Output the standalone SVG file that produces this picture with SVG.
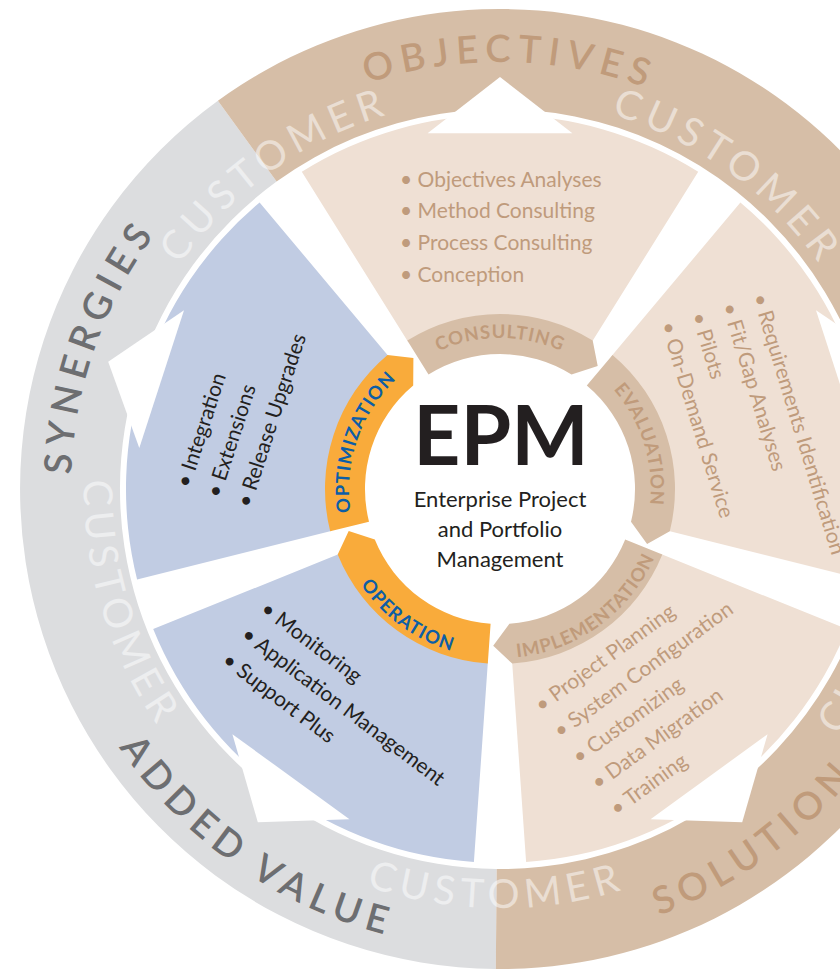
<svg xmlns="http://www.w3.org/2000/svg" width="840" height="971" viewBox="0 0 840 971">
<style>
text{font-family:Lato,"Open Sans","Liberation Sans",sans-serif}
.rl{font-size:38px;font-weight:600;letter-spacing:7px}
.tanT{fill:#c09b7b}
.grayT{fill:#6d6e71}
.cust{font-size:40px;font-weight:400;letter-spacing:6px;fill:#ffffff;fill-opacity:0.5}
.bl{font-size:18.5px;font-weight:700;letter-spacing:1px}
.blT{fill:#c09b7b}
.blB{fill:#0d5ea6}
.li{font-size:21px}
.liT{fill:#bf9b7c}
.liK{fill:#231f20}
.tanSec{fill:#efe0d4}
.blueSec{fill:#c1cce3}
.tanBand{fill:#d6bea7}
.orBand{fill:#f9ab3b}
.arrow{fill:#ffffff}
</style>
<defs>
<path id="pObj" d="M81.3,405.3 A427,427 0 0 1 922.1,424.4"/>
<path id="pSyn" d="M288.8,862.4 A429,429 0 0 1 570.8,65.9"/>
<path id="pAdd" d="M82.4,296 A460,460 0 0 0 826.4,813.1"/>
<path id="pSol" d="M183.9,816.3 A455,455 0 0 0 909,289.5"/>
<path id="pC1" d="M147.4,657.9 A391,391 0 0 1 773.6,209.6"/>
<path id="pC2" d="M228.4,207.8 A391,391 0 0 1 851.4,660.4"/>
<path id="pC3" d="M311.1,118.3 A416,416 0 0 0 550.7,901.9"/>
<path id="pC4" d="M86.7,558.1 A419,419 0 0 0 912,565.3"/>
<path id="pC5" d="M441.7,903.9 A419,419 0 0 0 696.7,119.1"/>
<path id="pCon" d="M351.3,462.8 A151,151 0 0 1 648.7,462.8"/>
<path id="pEva" d="M480.3,339.3 A151,151 0 0 1 569.7,622.9"/>
<path id="pImp" d="M382.6,610.6 A169,169 0 0 0 651.9,414.9"/>
<path id="pOpe" d="M348.1,414.9 A169,169 0 0 0 617.4,610.6"/>
<path id="pOpt" d="M426.8,621.1 A151,151 0 0 1 523.6,339.9"/>
</defs>
<rect width="840" height="971" fill="#ffffff"/>
<g id="outer-ring">
<path fill="#dcdddf" d="M495.8,969 A480,480 0 0 1 217.9,100.7 L276.6,181.6 A380,380 0 0 0 496.7,869 Z"/>
<path fill="#d6bea7" d="M217.9,100.7 A480,480 0 1 1 495.8,969 L496.7,869 A380,380 0 1 0 276.6,181.6 Z"/>
<text class="rl tanT"><textPath href="#pObj" startOffset="50%" text-anchor="middle">OBJECTIVES</textPath></text>
<text class="rl grayT"><textPath href="#pSyn" startOffset="50%" text-anchor="middle">SYNERGIES</textPath></text>
<text class="rl grayT"><textPath href="#pAdd" startOffset="50%" text-anchor="middle">ADDED VALUE</textPath></text>
<text class="rl tanT"><textPath href="#pSol" startOffset="50%" text-anchor="middle">SOLUTION</textPath></text>
<text class="cust"><textPath href="#pC1" startOffset="50%" text-anchor="middle">CUSTOMER</textPath></text>
<text class="cust"><textPath href="#pC2" startOffset="50%" text-anchor="middle">CUSTOMER</textPath></text>
<text class="cust"><textPath href="#pC3" startOffset="50%" text-anchor="middle">CUSTOMER</textPath></text>
<text class="cust"><textPath href="#pC4" startOffset="50%" text-anchor="middle">CUSTOMER</textPath></text>
<text class="cust"><textPath href="#pC5" startOffset="50%" text-anchor="middle">CUSTOMER</textPath></text>
</g>
<g id="consulting">
<path class="tanSec" d="M301.8,171.8 A374,374 0 0 1 698.2,171.8 L591.7,342.3 A173,173 0 0 0 408.3,342.3 Z"/>
<path class="tanBand" d="M407.3,340.6 A175,175 0 0 1 592.7,340.6 L597.7,366.1 L571.5,374.5 A135,135 0 0 0 428.5,374.5 Z"/>
<text class="bl blT"><textPath href="#pCon" startOffset="50%" text-anchor="middle">CONSULTING</textPath></text>
<g class="li liT">
<text x="400" y="187">• Objectives Analyses</text>
<text x="400" y="218">• Method Consulting</text>
<text x="400" y="250">• Process Consulting</text>
<text x="400" y="282">• Conception</text>
</g>
</g>
<g id="evaluation">
<path class="tanSec" d="M740.4,202.5 A374,374 0 0 1 862.9,579.5 L667.9,530.8 A173,173 0 0 0 611.2,356.5 Z"/>
<path class="tanBand" d="M612.5,354.9 A175,175 0 0 1 669.8,531.3 L647.1,544 L631,521.7 A135,135 0 0 0 586.8,385.6 Z"/>
<text class="bl blT"><textPath href="#pEva" startOffset="50%" text-anchor="middle">EVALUATION</textPath></text>
<g class="li liT" transform="translate(754,301) rotate(73)">
<text x="-5" y="0">• Requirements Identification</text>
<text x="-5" y="32">• Fit/Gap Analyses</text>
<text x="-5" y="64">• Pilots</text>
<text x="-5" y="96">• On-Demand Service</text>
</g>
</g>
<g id="implementation">
<path class="tanSec" d="M846.8,629.1 A374,374 0 0 1 526.1,862.1 L512.1,661.6 A173,173 0 0 0 660.4,553.8 Z"/>
<path class="tanBand" d="M662.3,554.6 A175,175 0 0 1 512.2,663.6 L493.2,645.8 L509.4,623.7 A135,135 0 0 0 625.2,539.6 Z"/>
<text class="bl blT"><textPath href="#pImp" startOffset="50%" text-anchor="middle">IMPLEMENTATION</textPath></text>
<g class="li liT" transform="translate(545.5,710) rotate(-36)">
<text x="-5" y="0">• Project Planning</text>
<text x="-5" y="32">• System Configuration</text>
<text x="-5" y="64">• Customizing</text>
<text x="-5" y="96">• Data Migration</text>
<text x="-5" y="128">• Training</text>
</g>
</g>
<g id="operation">
<path class="blueSec" d="M473.9,862.1 A374,374 0 0 1 153.2,629.1 L339.6,553.8 A173,173 0 0 0 487.9,661.6 Z"/>
<path class="orBand" d="M487.8,663.6 A175,175 0 0 1 337.7,554.6 L348.7,531 L374.8,539.6 A135,135 0 0 0 490.6,623.7 Z"/>
<text class="bl blB"><textPath href="#pOpe" startOffset="50%" text-anchor="middle">OPERATION</textPath></text>
<g class="li liK" transform="translate(263.4,614.8) rotate(37)">
<text x="-5" y="0">• Monitoring</text>
<text x="-5" y="32">• Application Management</text>
<text x="-5" y="64">• Support Plus</text>
</g>
</g>
<g id="optimization">
<path class="blueSec" d="M137.1,579.5 A374,374 0 0 1 259.6,202.5 L388.8,356.5 A173,173 0 0 0 332.1,530.8 Z"/>
<path class="orBand" d="M330.2,531.3 A175,175 0 0 1 387.5,354.9 L413.4,358.1 L413.2,385.6 A135,135 0 0 0 369,521.7 Z"/>
<text class="bl blB"><textPath href="#pOpt" startOffset="50%" text-anchor="middle">OPTIMIZATION</textPath></text>
<g class="li liK" transform="translate(191,484) rotate(-72)">
<text x="-5" y="0">• Integration</text>
<text x="-5" y="32">• Extensions</text>
<text x="-5" y="64">• Release Upgrades</text>
</g>
</g>
<g id="center">
<text x="501" y="465" text-anchor="middle" font-size="82" font-weight="700" fill="#231f20">EPM</text>
<text x="500" y="507" text-anchor="middle" font-size="22" fill="#231f20">Enterprise Project</text>
<text x="500" y="537" text-anchor="middle" font-size="22" fill="#231f20">and Portfolio</text>
<text x="500" y="567" text-anchor="middle" font-size="22" fill="#231f20">Management</text>
</g>
<g id="connectors">
<polygon class="arrow" points="500,77 572.4,133.3 427.6,133.3"/>
<polygon class="arrow" points="891.8,361.7 860.7,447.9 816,310.3"/>
<polygon class="arrow" points="742.2,822.3 650.5,819.3 767.6,734.2"/>
<polygon class="arrow" points="257.8,822.3 232.4,734.2 349.5,819.3"/>
<polygon class="arrow" points="108.2,361.7 184,310.3 139.3,447.9"/>
</g>
</svg>
